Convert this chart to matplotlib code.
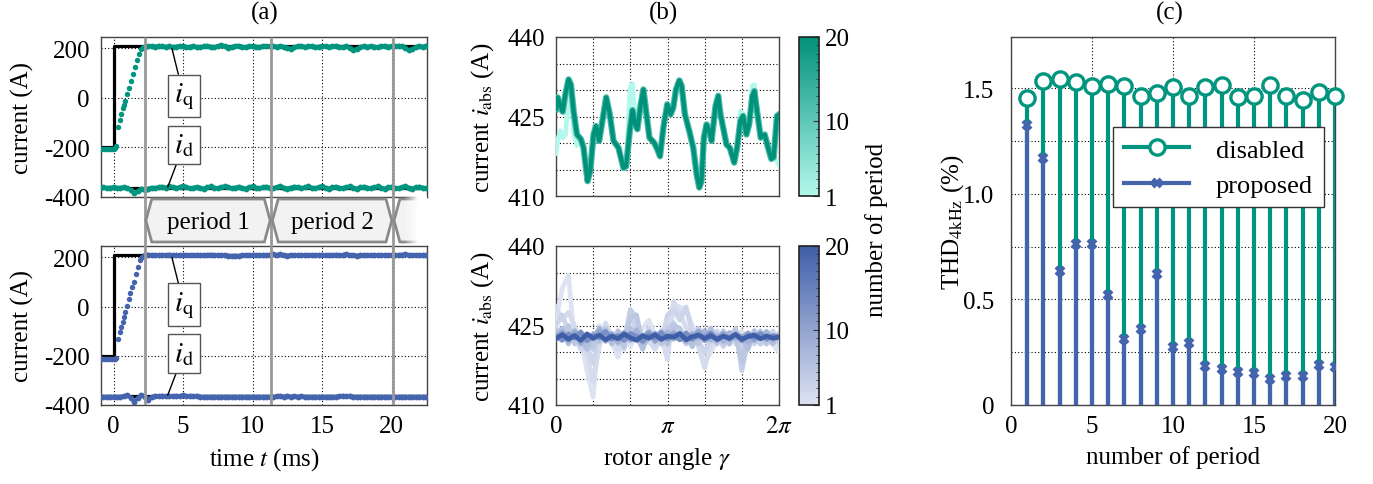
import numpy as np
import matplotlib
matplotlib.use('Agg')
import matplotlib.pyplot as plt
import matplotlib.cm as cm
from matplotlib.colors import LinearSegmentedColormap, Normalize
from matplotlib.patches import Polygon, Rectangle
from matplotlib.lines import Line2D
from matplotlib.legend_handler import HandlerLine2D
from matplotlib.ticker import MultipleLocator

plt.rcParams['font.family'] = ['Liberation Serif', 'DejaVu Serif']
plt.rcParams['mathtext.fontset'] = 'stix'
plt.rcParams['axes.unicode_minus'] = False
plt.rcParams['font.size'] = 18

# ---- (a) time traces, step at t = 0 ----
# reference (black)
ref_t = [-1.0, 0.0, 0.0, 22.6]
iq_ref = [-200, -200, 211, 211]
id_ref = [-362, -362]
id_ref_t = [-1.0, 22.6]

# disabled: pre-step + ramp samples
t_ramp_dis = [-1.0, -0.9, -0.8, -0.7, -0.6, -0.5, -0.4, -0.3, -0.2, -0.1, 0.0, 0.1, 0.21,
              0.33, 0.45, 0.57, 0.69, 0.78, 0.86, 0.98, 1.12, 1.24, 1.41, 1.56, 1.70, 1.84, 2.01, 2.13]
iq_ramp_dis = [-207, -208, -206, -207, -208, -207, -206, -208, -207, -206, -205, -201, -194,
               -117, -90, -66, -42, -27, -12, 15, 42, 68, 95, 126, 154, 178, 197, 204]
# disabled: iq steady state, sampled every 0.25 ms from 2.25 ms
iq_ss_dis = [205, 209, 210, 207, 211, 208, 206, 209, 205, 207,
             210, 208, 204, 207, 209, 206, 204, 208, 211, 207,
             204, 209, 212, 208, 203, 206, 210, 211, 207, 205,
             208, 210, 207, 205, 209, 210, 208, 209, 207, 210,
             206, 203, 199, 204, 209, 211, 206, 208, 210, 205,
             207, 210, 208, 205, 209, 211, 207, 205, 208, 200,
             193, 198, 205, 209, 206, 210, 207, 204, 209, 211,
             207, 210, 208, 211, 208, 200, 192, 198, 205, 209,
             207, 211]
# disabled: id, sampled every 0.25 ms from -1 ms
id_dis = [-362, -361, -363, -362, -361, -363, -362, -360, -364, -372,
          -384, -377, -366, -371, -366, -362, -364, -360, -358, -362,
          -356, -360, -364, -360, -355, -361, -365, -362, -359, -363,
          -366, -361, -357, -362, -364, -360, -357, -361, -365, -362,
          -358, -363, -366, -361, -357, -362, -365, -361, -358, -362,
          -364, -360, -357, -362, -366, -362, -358, -361, -365, -361,
          -357, -362, -365, -360, -357, -362, -366, -361, -358, -363,
          -365, -360, -357, -362, -366, -361, -358, -362, -365, -361,
          -357, -362, -366, -361, -358, -363, -365, -360, -357, -362,
          -366, -361, -358, -362, -364]

# proposed
t_ramp_pro = [-1.0, -0.9, -0.8, -0.7, -0.6, -0.5, -0.4, -0.3, -0.2, -0.1, 0.0, 0.1, 0.2,
              0.33, 0.45, 0.53, 0.65, 0.74, 0.83, 0.98, 1.08, 1.22, 1.34, 1.46, 1.60, 1.77, 1.89, 2.05]
iq_ramp_pro = [-212, -212, -212, -212, -212, -212, -212, -212, -212, -212, -212, -212, -211,
               -131, -102, -83, -61, -44, -24, 4, 31, 54, 79, 100, 131, 162, 189, 203]
iq_ss_pro = [208, 211, 209, 210, 208, 210, 209, 211, 209, 208,
             210, 209, 210, 208, 209, 210, 209, 208, 210, 211,
             209, 210, 208, 209, 207, 206, 207, 206, 208, 210,
             209, 210, 209, 208, 210, 209, 211, 212, 210, 212,
             209, 207, 210, 208, 209, 210, 209, 208, 210, 209,
             210, 208, 209, 210, 209, 211, 209, 210, 212, 209,
             210, 207, 209, 210, 209, 208, 210, 209, 210, 209,
             208, 210, 209, 210, 211, 212, 210, 209, 210, 209,
             210, 209]
id_pro = [-366, -366, -366, -366, -366, -366, -366, -364, -360, -370,
          -386, -372, -358, -366, -378, -368, -362, -365, -362, -364,
          -362, -365, -362, -364, -361, -365, -362, -364, -362, -366,
          -366, -366, -366, -366, -366, -366, -366, -366, -366, -366,
          -366, -366, -366, -366, -366, -366, -366, -366, -366, -366,
          -366, -364, -362, -366, -362, -366, -363, -366, -364, -366,
          -366, -366, -366, -366, -366, -366, -366, -366, -366, -364,
          -362, -365, -362, -366, -366, -366, -366, -366, -366, -366,
          -366, -366, -366, -366, -366, -366, -366, -366, -366, -366,
          -366, -366, -366, -366, -366]

period_edges = [2.25, 11.35, 20.1]
period_names = ['period 1', 'period 2']

# ---- (b) current magnitude over one rotor revolution ----
# disabled: angle in units of pi; periods 2..20 lie on top of each other
gam_dis = [0.000, 0.015, 0.039, 0.060, 0.084, 0.113, 0.134, 0.158, 0.188, 0.224,
           0.247, 0.283, 0.307, 0.337, 0.358, 0.387, 0.411, 0.450, 0.480, 0.516,
           0.560, 0.605, 0.629, 0.665, 0.686, 0.709, 0.730, 0.760, 0.784, 0.808,
           0.838, 0.879, 0.909, 0.933, 0.963, 0.998, 1.028, 1.052, 1.076, 1.106,
           1.127, 1.156, 1.195, 1.231, 1.261, 1.285, 1.305, 1.326, 1.350, 1.374,
           1.395, 1.431, 1.455, 1.475, 1.505, 1.529, 1.559, 1.598, 1.624, 1.654,
           1.678, 1.708, 1.732, 1.761, 1.779, 1.803, 1.836, 1.872, 1.902, 1.931,
           1.952, 1.982, 2.000]
iabs_dis = [426.4, 428.6, 427.0, 425.9, 429.2, 432.0, 431.0, 426.0, 421.6, 420.7,
            419.1, 412.8, 414.7, 421.6, 423.2, 420.4, 423.5, 428.6, 425.7, 420.4,
            419.1, 415.3, 415.6, 422.9, 426.2, 423.5, 422.6, 427.3, 430.1, 426.0,
            421.0, 420.1, 418.8, 417.5, 422.9, 427.3, 425.4, 426.7, 430.1, 431.8,
            430.8, 425.4, 422.3, 419.1, 414.1, 411.6, 412.8, 421.0, 423.5, 422.3,
            420.4, 427.0, 428.9, 425.4, 422.3, 419.7, 419.1, 416.3, 419.1, 424.2,
            425.1, 421.6, 423.5, 428.9, 429.8, 426.0, 421.0, 421.6, 419.1, 417.0,
            417.3, 425.1, 425.4]
iabs_dis_p1 = [418.0, 420.5, 422.3, 421.0, 421.5, 428.5, 430.0, 422.0, 419.5, 420.5,
               419.1, 412.8, 414.7, 421.6, 423.2, 420.4, 423.5, 428.6, 425.7, 420.4,
               419.1, 415.3, 415.6, 430.5, 431.2, 425.0, 422.6, 427.3, 430.1, 426.0,
               421.0, 420.1, 418.8, 417.5, 422.9, 427.3, 425.4, 426.7, 430.1, 431.8,
               430.8, 425.4, 422.3, 419.1, 414.1, 411.6, 412.8, 421.0, 423.5, 422.3,
               420.4, 427.0, 428.9, 425.4, 422.3, 419.7, 419.1, 416.3, 419.1, 426.0,
               425.5, 421.6, 423.5, 430.8, 431.0, 426.0, 421.0, 421.6, 419.1, 417.0,
               417.5, 416.5, 415.8]

# proposed: 37 samples per revolution, selected periods
pro_periods = [1, 2, 3, 4, 5, 6, 8, 10, 13, 20]
iabs_pro = [
    [426, 432, 434.5, 422, 422.5, 416.5, 411.5, 425, 423.5, 422,
     419, 423, 421, 423.5, 424.5, 426, 423, 421.5, 426, 429,
     428.5, 428, 425, 423, 418, 420, 422.5, 422, 423, 421.5,
     424, 421, 423, 421.5, 423.5, 421.5, 420],
    [428.5, 426, 427.5, 425, 421, 419.5, 414.5, 421, 425.5, 423,
     420.5, 421.5, 424, 425.5, 423, 422, 420.5, 423, 418.5, 429.5,
     427.5, 424.5, 423.5, 421, 417, 421.5, 423.5, 422, 421.5, 423.5,
     420.5, 422.5, 424, 422, 421.5, 423, 423],
    [425, 427, 424, 423, 420.5, 421, 418, 423.5, 424, 421.5,
     422.5, 420.5, 427.5, 424, 422, 424.5, 421.5, 422, 427, 428,
     426, 428.5, 423.5, 422, 420, 422.5, 424, 421, 423.5, 422,
     420, 423.5, 421.5, 423, 422, 424, 421.5],
    [423.5, 424.5, 422, 423.5, 421.5, 422, 420.5, 424, 422.5, 423.5,
     421.5, 422, 428, 426.5, 421, 423.5, 422, 423, 424.5, 425.5,
     423.5, 421.5, 422.5, 424.5, 423, 422, 423.5, 421.5, 422.5, 424.5,
     416.5, 422, 423, 421.5, 423.5, 422.5, 422],
    [424, 422.5, 425, 421.5, 423.5, 422, 421, 423.5, 424.5, 422,
     423, 421, 426.5, 427, 421.5, 422.5, 423.5, 421.5, 423.5, 425,
     424.5, 422, 423.5, 421.5, 424, 423, 421.5, 424, 422.5, 423,
     418, 423.5, 422, 424, 421.5, 423, 422.5],
    [423, 424.5, 421.5, 424, 422.5, 420.5, 423.5, 422, 424, 421.5,
     424, 422.5, 424.5, 423, 420.5, 423.5, 422.5, 424, 421.5, 424,
     422.5, 423.5, 421, 424, 422.5, 424.5, 422, 423, 421.5, 424,
     422.5, 420.5, 424, 422.5, 423.5, 421.5, 423.5],
    [422.5, 423.5, 422, 424, 421.5, 423, 422.5, 424.5, 422, 423.5,
     421.8, 423, 422.5, 424.2, 421.8, 422.8, 423.6, 422.2, 423.8, 422.4,
     423.2, 421.9, 423.5, 422.6, 424, 422.3, 423.1, 422, 423.7, 422.5,
     423, 421.8, 423.4, 422.6, 423.9, 422.2, 423],
    [422.8, 423.8, 422.2, 423.6, 421.9, 423.4, 422.4, 423.9, 422.1, 423.3,
     422.6, 423.7, 422.2, 423.1, 422.7, 423.8, 422.0, 423.4, 422.5, 423.6,
     422.3, 423.2, 422.8, 423.9, 422.1, 423.0, 422.6, 423.5, 422.3, 423.2,
     422.7, 423.6, 422.2, 423.3, 422.6, 423.0, 422.7],
    [423, 422.2, 423.4, 422.6, 423.8, 422.1, 423.2, 422.7, 423.9, 422.4,
     423.1, 422.2, 423.5, 422.9, 422.0, 423.3, 422.6, 423.7, 422.5, 423.1,
     422.3, 423.6, 422.4, 423.2, 422.8, 423.6, 422.2, 423.0, 422.5, 423.4,
     422.1, 423.2, 422.7, 423.5, 422.4, 423.1, 422.9],
    [422.5, 423.3, 422.4, 423.1, 422.2, 423.4, 422.6, 423.2, 422.3, 423,
     422.5, 423.4, 422.7, 422.2, 423.1, 422.6, 423.3, 422.4, 423, 422.8,
     423.5, 422.3, 422.9, 423.2, 422.5, 423.1, 422.4, 423, 422.6, 423.3,
     422.4, 422.9, 423.2, 422.5, 423, 422.6, 422.8],
]

# ---- (c) THD per period ----
periods = list(range(1, 21))
thd_dis = [1.453, 1.536, 1.544, 1.528, 1.509, 1.521, 1.509, 1.465, 1.476, 1.505,
           1.461, 1.505, 1.513, 1.457, 1.461, 1.516, 1.461, 1.442, 1.484, 1.462]
thd_pro = [1.326, 1.169, 0.633, 0.761, 0.761, 0.521, 0.312, 0.359, 0.620, 0.276,
           0.292, 0.186, 0.171, 0.158, 0.150, 0.123, 0.139, 0.139, 0.191, 0.179]

TEAL = '#00957f'
BLUE = '#4564ae'
W, H = 1373, 485
fig = plt.figure(figsize=(W / 100, H / 100), dpi=100)


def px(x0, y0, x1, y1):
    return [x0 / W, 1 - y1 / H, (x1 - x0) / W, (y1 - y0) / H]


def style(ax):
    for s in ax.spines.values():
        s.set_color('#444')
        s.set_linewidth(1)
    ax.tick_params(which='both', length=0)
    ax.tick_params(axis='y', pad=8)
    ax.tick_params(axis='x', pad=7)
    ax.grid(True, which='both', color='k', linestyle=(0, (1, 2)), linewidth=0.8)
    ax.set_axisbelow(True)


# ---------------- (a) ----------------
ax_at = fig.add_axes(px(101, 38, 427, 198))
ax_ab = fig.add_axes(px(101, 247, 427, 406))
for ax, c, tr, qr, qs, dd in [(ax_at, TEAL, t_ramp_dis, iq_ramp_dis, iq_ss_dis, id_dis),
                              (ax_ab, BLUE, t_ramp_pro, iq_ramp_pro, iq_ss_pro, id_pro)]:
    style(ax)
    ax.plot(ref_t, iq_ref, color='k', lw=2.3, zorder=2)
    ax.plot(id_ref_t, id_ref, color='k', lw=2.3, zorder=2)
    t_ss = 2.25 + 0.25 * np.arange(len(qs))
    t_d = -1.0 + 0.25 * np.arange(len(dd))
    ax.plot(tr, qr, 'o', color=c, ms=3.9, mew=0, zorder=3)
    ax.plot(t_ss, qs, '-o', color=c, lw=2.8, ms=4.2, mew=0, zorder=3)
    ax.plot(t_d, dd, '-o', color=c, lw=2.8, ms=4.2, mew=0, zorder=3)
    ax.set_xlim(-0.9, 22.55)
    ax.set_ylim(-400, 246)
    ax.set_xticks([0, 5, 10, 15, 20])
    ax.set_yticks([-400, -200, 0, 200])
    ax.set_ylabel('current (A)', labelpad=7)
    kw = dict(ha='center', va='center', fontsize=21, zorder=6,
              bbox=dict(boxstyle='square,pad=0.2', fc='white', ec='#555', lw=1),
              arrowprops=dict(arrowstyle='-', color='k', lw=1, shrinkA=0, shrinkB=0))
    ax.annotate(r'$i_\mathrm{q}$', xy=(4.2, 200), xytext=(5.05, 8), **kw)
    ax.annotate(r'$i_\mathrm{d}$', xy=(3.9, -360), xytext=(5.05, -190), **kw)
ax_at.set_xticklabels([])
ax_ab.set_xlabel('time $t$ (ms)', labelpad=6)

# period markers across both traces
ov = fig.add_axes(px(101, 38, 427, 406), zorder=5)
ov.axis('off')
ov.patch.set_alpha(0)
for e in period_edges:
    ov.plot([e, e], [406, 38], color='#999', lw=2, solid_capstyle='butt')
yt, ym, yb = 200, 221.5, 243
edges = period_edges + [23.5]
for i in range(len(edges) - 1):
    a, b = edges[i], edges[i + 1]
    pts = [(a + 0.08, ym), (a + 0.5, yt), (b - 0.5, yt), (b - 0.08, ym), (b - 0.5, yb), (a + 0.5, yb)]
    ov.add_patch(Polygon(pts, closed=True, fc='#f2f2f2', ec='#8a8a8a', lw=2, zorder=2))
    if i < len(period_names):
        ov.text((a + b) / 2, ym + 1, period_names[i], ha='center', va='center', zorder=3)
fade = np.ones((1, 64, 4))
fade[0, :, 3] = np.linspace(0, 1, 64)
ov.imshow(fade, extent=(20.9, 21.9, yb + 3, yt - 3), aspect='auto', zorder=4)
ov.add_patch(Rectangle((21.9, yt - 3), 1.0, yb - yt + 6, fc='white', ec='none', zorder=4))
ov.set_xlim(-0.9, 22.55)
ov.set_ylim(406, 38)

# ---------------- (b) ----------------
norm = Normalize(1, 20)
cmap_t = LinearSegmentedColormap.from_list('teal', ['#b3f8ec', '#00917b'])
cmap_b = LinearSegmentedColormap.from_list('blue', ['#dde3f1', '#3f5ea8'])
ax_bt = fig.add_axes(px(556, 38, 779, 197))
ax_bb = fig.add_axes(px(556, 247, 779, 406))
g = np.array(gam_dis) * np.pi
ax_bt.plot(g, iabs_dis_p1, color=cmap_t(norm(1)), lw=3.4, zorder=3)
ax_bt.plot(g, iabs_dis, color=cmap_t(norm(12)), lw=4.6, zorder=3)
ax_bt.plot(g, iabs_dis, color=cmap_t(norm(20)), lw=3.0, zorder=3)
gp = np.linspace(0, 2 * np.pi, len(iabs_pro[0]))
for p, vals in zip(pro_periods, iabs_pro):
    ax_bb.plot(gp, vals, color=cmap_b(norm(p)), lw=3.4, zorder=3)
for ax in (ax_bt, ax_bb):
    style(ax)
    ax.set_xlim(0, 2 * np.pi)
    ax.set_ylim(410, 440)
    ax.set_xticks([0, np.pi, 2 * np.pi])
    ax.set_xticks([k * np.pi / 3 for k in (1, 2, 4, 5)], minor=True)
    ax.set_yticks([410, 425, 440])
    ax.set_yticks([415, 420, 430, 435], minor=True)
    ax.set_ylabel(r'current $i_\mathrm{abs}$ (A)', labelpad=8)
ax_bt.set_xticklabels([])
ax_bb.set_xticklabels(['0', r'$\pi$', r'$2\pi$'])
ax_bb.set_xlabel(r'rotor angle $\gamma$', labelpad=6)

for (y0, y1), cmap in [((38, 197), cmap_t), ((247, 406), cmap_b)]:
    cax = fig.add_axes(px(799, y0, 819, y1))
    cb = fig.colorbar(cm.ScalarMappable(norm=norm, cmap=cmap), cax=cax)
    cb.set_ticks([1, 10, 20])
    cax.yaxis.set_minor_locator(MultipleLocator(1))
    cax.tick_params(which='major', direction='in', length=4, color='#333', pad=4)
    cax.tick_params(which='minor', direction='in', length=2.5, color='#333')
    cb.outline.set_edgecolor('#222')
    cb.outline.set_linewidth(1.2)
fig.text(877 / W, 1 - 230 / H, 'number of period', rotation=90, ha='center', va='center')

# ---------------- (c) ----------------
ax_c = fig.add_axes(px(1011, 38, 1335, 406))
style(ax_c)
ax_c.tick_params(axis='y', pad=12)
ax_c.vlines(periods, 0, thd_dis, color=TEAL, lw=3, zorder=3)
ax_c.plot(periods, thd_dis, 'o', ms=11, mfc='white', mec=TEAL, mew=2.4, zorder=4, clip_on=False)
ax_c.vlines(periods, 0, thd_pro, color=BLUE, lw=3, zorder=5)
ax_c.plot(periods, thd_pro, 'x', ms=6, mec=BLUE, mew=3, zorder=6)
ax_c.set_xlim(0, 20)
ax_c.set_ylim(0, 1.742)
ax_c.set_xticks([0, 5, 10, 15, 20])
ax_c.set_yticks([0, 0.5, 1.0, 1.5])
ax_c.set_yticklabels(['0', '0.5', '1.0', '1.5'])
ax_c.set_yticks([0.25, 0.75, 1.25], minor=True)
ax_c.set_xlabel('number of period', labelpad=6)
ax_c.set_ylabel(r'THD$_\mathrm{4kHz}$ (%)', labelpad=-2)


class EndMarker(HandlerLine2D):
    def get_xdata(self, legend, xdescent, ydescent, width, height, fontsize):
        xdata, _ = super().get_xdata(legend, xdescent, ydescent, width, height, fontsize)
        return xdata, [xdata[-1]]


h_dis = Line2D([], [], color=TEAL, lw=3, marker='o', ms=11, mfc='white', mec=TEAL, mew=2.4)
h_pro = Line2D([], [], color=BLUE, lw=3, marker='x', ms=6, mec=BLUE, mew=3)
leg = ax_c.legend([h_dis, h_pro], ['disabled', 'proposed'], loc='upper left',
                  bbox_to_anchor=(0.274, 0.79), fancybox=False, framealpha=1,
                  edgecolor='#333', handlelength=2.5, handletextpad=1.0,
                  borderpad=0.4, labelspacing=0.45, fontsize=19,
                  handler_map={Line2D: EndMarker()})
leg.get_frame().set_linewidth(1)
leg.set_zorder(10)

for x, s in [(265, '(a)'), (663, '(b)'), (1170, '(c)')]:
    fig.text(x / W, 1 - 13 / H, s, ha='center', va='center')

fig.savefig('out.png', dpi=100)
